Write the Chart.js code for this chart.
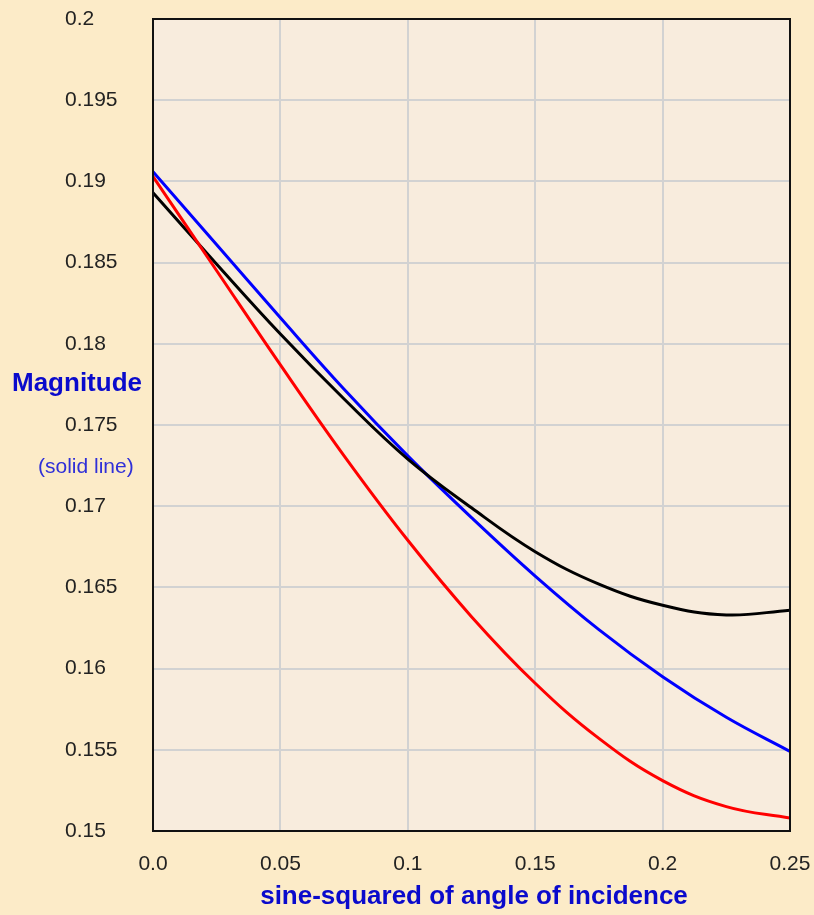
<!DOCTYPE html>
<html>
<head>
<meta charset="utf-8">
<script src="https://cdn.jsdelivr.net/npm/chart.js@4.4.1/dist/chart.umd.min.js"></script>
<style>
    html, body { margin: 0; padding: 0; background: #FCEBC8; }
    #wrap { width: 814px; height: 915px; position: relative; }
</style>
</head>
<body>
<div id="wrap"><canvas id="magChart"></canvas></div>
<script>
// sine-squared of the angle of incidence
const sinSq = [0, 0.025, 0.05, 0.075, 0.1, 0.125, 0.15, 0.175, 0.2, 0.225, 0.25];

// magnitude curves
const blueMag  = [0.1906, 0.1861, 0.1816, 0.1772, 0.1731, 0.1693, 0.1657, 0.1624, 0.1595, 0.1570, 0.1549];
const redMag   = [0.1903, 0.1845, 0.1787, 0.1731, 0.1679, 0.1632, 0.1591, 0.1557, 0.1531, 0.1515, 0.1508];
const blackMag = [0.1893, 0.1849, 0.1806, 0.1766, 0.1729, 0.1699, 0.1672, 0.1652, 0.1639, 0.1633, 0.1636];

const yTitle = "Magnitude";
const ySubTitle = "(solid line)";
const xTitle = "sine-squared of angle of incidence";

function toPoints(values) {
    return sinSq.map((s, i) => ({x: s, y: values[i]}));
}

function lineDataset(values, color) {
    return {
        data: toPoints(values),
        borderColor: color,
        borderWidth: 3,
        pointRadius: 0,
        fill: false,
        tension: 0.4
    };
}

function tickText(value) {
    if (value === 0) return "0.0";
    return String(Number(value.toFixed(3)));
}

// plot area fill + black frame + the free-standing axis captions
const plotFrame = {
    id: 'plotFrame',
    beforeDraw(chart) {
        const {ctx, chartArea: a} = chart;
        ctx.save();
        ctx.fillStyle = '#F8ECDD';
        ctx.fillRect(a.left, a.top, a.right - a.left, a.bottom - a.top);
        ctx.restore();
    },
    afterDraw(chart) {
        const {ctx, chartArea: a} = chart;
        ctx.save();
        ctx.strokeStyle = '#111';
        ctx.lineWidth = 2;
        ctx.strokeRect(a.left, a.top, a.right - a.left, a.bottom - a.top);

        ctx.fillStyle = '#0A0ACC';
        ctx.font = 'bold 26px "Liberation Sans", Arial, sans-serif';
        ctx.textBaseline = 'middle';
        ctx.textAlign = 'left';
        ctx.fillText(yTitle, 12, 384);

        ctx.fillStyle = '#3030D8';
        ctx.font = '21px "Liberation Sans", Arial, sans-serif';
        ctx.fillText(ySubTitle, 38, 467);

        ctx.fillStyle = '#0A0ACC';
        ctx.font = 'bold 26px "Liberation Sans", Arial, sans-serif';
        ctx.textAlign = 'center';
        ctx.fillText(xTitle, 474, 897);
        ctx.restore();
    }
};

const tickFont = {family: '"Liberation Sans", Arial, sans-serif', size: 21};

let chartOptions = {
    responsive: true,
    maintainAspectRatio: false,
    animation: false,
    layout: {
        padding: {top: 19, right: 24, left: 65, bottom: 0}
    },
    scales: {
        x: {
            type: 'linear',
            min: 0,
            max: 0.25,
            border: {display: false},
            grid: {color: '#D2D2D2', lineWidth: 2, drawTicks: false},
            ticks: {
                stepSize: 0.05,
                color: '#222',
                font: tickFont,
                padding: 21,
                maxRotation: 0,
                callback: tickText
            },
            afterFit: (scale) => {
                scale.height = 84;
                scale.paddingLeft = 0;
                scale.paddingRight = 0;
            }
        },
        y: {
            type: 'linear',
            min: 0.15,
            max: 0.2,
            border: {display: false},
            grid: {color: '#D2D2D2', lineWidth: 2, drawTicks: false},
            ticks: {
                stepSize: 0.005,
                color: '#222',
                font: tickFont,
                crossAlign: 'far',
                padding: 0,
                callback: tickText
            },
            afterFit: (scale) => {
                scale.width = 88;
                scale.paddingTop = 0;
                scale.paddingBottom = 0;
            }
        }
    },
    plugins: {
        legend: {display: false},
        title: {display: false},
        tooltip: {enabled: false}
    }
};

let ctx = document.getElementById("magChart").getContext("2d");

window.magChart = new Chart(ctx, {
    type: 'line',
    data: {
        datasets: [
            lineDataset(redMag, '#FF0000'),
            lineDataset(blackMag, '#000000'),
            lineDataset(blueMag, '#0000FF')
        ]
    },
    options: chartOptions,
    plugins: [plotFrame]
});
</script>
</body>
</html>
